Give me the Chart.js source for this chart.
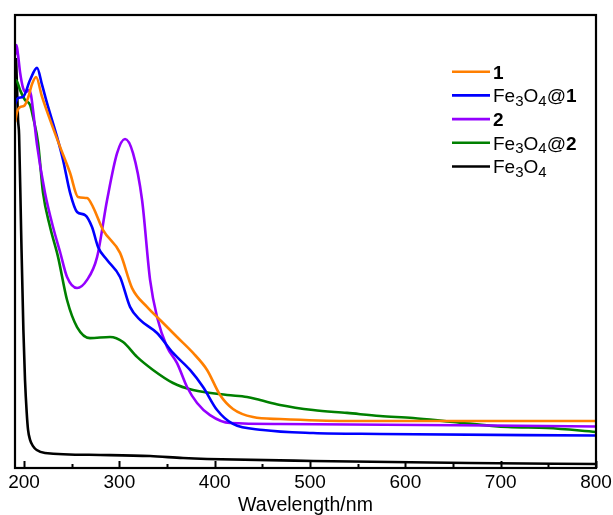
<!DOCTYPE html>
<html>
<head>
<meta charset="utf-8">
<script src="https://cdn.jsdelivr.net/npm/chart.js@4/dist/chart.umd.min.js"></script>
<style>
  html, body { margin: 0; padding: 0; background: #ffffff; }
  #wrap { width: 613px; height: 515px; }
</style>
</head>
<body>
<div id="wrap"><canvas id="uv" width="613" height="515"></canvas></div>
<script>
// UV-Vis absorption spectra (arbitrary absorbance units)
const seriesNames  = ['1', 'Fe3O4@1', '2', 'Fe3O4@2', 'Fe3O4'];
const seriesColors = ['#ff7f00', '#0000ff', '#9400ff', '#008000', '#000000'];

const wl1  = [190.6,192.7,195.8,200.0,204.2,208.4,212.6,218.9,227.3,237.8,248.3,256.6,266.1,272.4,282.9,300.7,313.3,329.0,342.7,360.5,377.3,392.0,405.6,419.2,440.2,468.5,538.8,800];
const abs1 = [1.909,1.965,1.992,1.998,2.042,2.119,2.158,2.048,1.921,1.772,1.628,1.496,1.490,1.440,1.313,1.187,0.993,0.889,0.817,0.723,0.635,0.541,0.403,0.326,0.281,0.270,0.259,0.259];

const wlFe1  = [190.6,193.7,199.0,206.3,213.6,218.9,224.1,234.6,240.9,248.3,255.6,264.0,271.3,277.6,287.1,300.7,311.2,321.7,339.5,356.3,374.1,387.8,402.5,419.2,450.7,503.2,573.4,800];
const absFe1 = [2.009,2.042,2.048,2.141,2.208,2.114,2.014,1.827,1.700,1.518,1.413,1.396,1.330,1.220,1.148,1.054,0.889,0.817,0.745,0.635,0.541,0.447,0.320,0.243,0.210,0.193,0.188,0.179];

const wl2  = [190.6,192.1,193.7,195.8,199.0,202.1,205.2,207.3,209.4,213.6,222.0,230.4,237.8,245.1,255.6,266.1,276.6,287.1,297.6,305.9,314.3,323.8,332.2,339.5,350.0,360.5,371.0,381.5,395.1,416.1,468.5,800];
const abs2 = [2.279,2.334,2.279,2.185,2.097,2.075,2.086,2.058,1.976,1.783,1.518,1.330,1.192,1.054,0.993,1.038,1.164,1.479,1.738,1.816,1.738,1.479,1.038,0.833,0.668,0.579,0.447,0.359,0.292,0.248,0.243,0.229];

const wlFe2  = [190.6,191.6,195.8,201.0,206.3,209.4,214.7,219.9,227.3,235.7,245.1,255.6,269.2,290.2,303.9,318.5,335.3,356.3,377.3,413.0,433.9,447.6,468.5,503.2,538.8,573.4,608.1,650.0,707.7,748.6,800];
const absFe2 = [2.130,2.141,2.086,2.031,2.003,1.937,1.794,1.518,1.330,1.164,0.927,0.778,0.717,0.723,0.695,0.613,0.541,0.469,0.430,0.403,0.392,0.375,0.348,0.320,0.304,0.287,0.276,0.254,0.226,0.221,0.199];

const wlFe  = [191.6,192.7,193.7,194.8,196.9,199.3,201.0,202.8,204.2,206.3,209.4,213.3,222.0,279.7,332.2,366.8,392.0,503.2,666.8,800];
const absFe = [2.263,2.086,1.921,1.838,1.313,0.762,0.486,0.304,0.210,0.155,0.121,0.099,0.083,0.072,0.066,0.055,0.050,0.039,0.028,0.022];

const xMajorTicks = [200, 300, 400, 500, 600, 700, 800];
const xMinorTicks = [250, 350, 450, 550, 650, 750];
const xRange = [190.5, 800];
const yRange = [0, 2.5];
const xTitle = 'Wavelength/nm';

const seriesWl  = [wl1, wlFe1, wl2, wlFe2, wlFe];
const seriesAbs = [abs1, absFe1, abs2, absFe2, absFe];

const FONT = '"Liberation Sans", Arial, Helvetica, sans-serif';

function toPoints(xs, ys) {
  return xs.map((x, i) => ({ x: x, y: ys[i] }));
}

const datasets = seriesNames.map((name, i) => ({
  label: name,
  data: toPoints(seriesWl[i], seriesAbs[i]),
  borderColor: seriesColors[i],
  backgroundColor: seriesColors[i],
  borderWidth: 2.6,
  pointRadius: 0,
  showLine: true,
  fill: false,
  cubicInterpolationMode: 'monotone'
}));

// Splits a label into runs: digits after a letter become subscripts,
// standalone digits (compound numbers) are bold.
function labelRuns(text) {
  const runs = [];
  for (let i = 0; i < text.length; i++) {
    const ch = text[i];
    const isDigit = ch >= '0' && ch <= '9';
    const prev = i > 0 ? text[i - 1] : '';
    let kind = 'normal';
    if (isDigit) kind = /[A-Za-z]/.test(prev) ? 'sub' : 'bold';
    const last = runs[runs.length - 1];
    if (last && last.kind === kind) last.text += ch;
    else runs.push({ kind: kind, text: ch });
  }
  return runs;
}

const framePlugin = {
  id: 'frameTicksLegend',
  afterDatasetsDraw(chart) {
    const ctx = chart.ctx;
    const a = chart.chartArea;
    const xs = chart.scales.x;
    ctx.save();
    // inward ticks on the bottom axis
    ctx.strokeStyle = '#000';
    ctx.lineWidth = 2;
    ctx.lineCap = 'butt';
    const drawTick = (v, len) => {
      const px = Math.round(xs.getPixelForValue(v)) + 0.5;
      ctx.beginPath();
      ctx.moveTo(px, a.bottom);
      ctx.lineTo(px, a.bottom - len);
      ctx.stroke();
    };
    xMajorTicks.forEach(v => drawTick(v, 7));
    xMinorTicks.forEach(v => drawTick(v, 4));
    // plot frame
    ctx.lineWidth = 2.2;
    ctx.strokeRect(a.left, a.top, a.right - a.left, a.bottom - a.top);

    // legend
    const lx0 = 452, lx1 = 490, tx = 493, y0 = 71.7, dy = 23.7;
    chart.data.datasets.forEach((ds, i) => {
      const y = y0 + i * dy;
      ctx.strokeStyle = ds.borderColor;
      ctx.lineWidth = 2.6;
      ctx.beginPath();
      ctx.moveTo(lx0, y);
      ctx.lineTo(lx1, y);
      ctx.stroke();
      let x = tx;
      ctx.fillStyle = '#000';
      ctx.textBaseline = 'alphabetic';
      ctx.textAlign = 'left';
      const base = y + 6.8;
      labelRuns(ds.label).forEach(r => {
        let dyOff = 0;
        if (r.kind === 'sub') { ctx.font = '15px ' + FONT; dyOff = 3.5; }
        else if (r.kind === 'bold') { ctx.font = 'bold 19px ' + FONT; }
        else { ctx.font = '19px ' + FONT; }
        ctx.fillText(r.text, x, base + dyOff);
        x += ctx.measureText(r.text).width;
      });
    });
    ctx.restore();
  }
};

new Chart(document.getElementById('uv'), {
  type: 'scatter',
  data: { datasets: datasets },
  options: {
    responsive: false,
    devicePixelRatio: 1,
    animation: false,
    layout: { padding: { left: 15, top: 15, right: 17, bottom: 0 } },
    plugins: {
      legend: { display: false },
      tooltip: { enabled: false },
      title: { display: false }
    },
    scales: {
      x: {
        type: 'linear',
        min: xRange[0],
        max: xRange[1],
        afterBuildTicks(scale) {
          scale.ticks = xMajorTicks.map(v => ({ value: v }));
        },
        afterFit(scale) {
          scale.height = 47;
          scale.paddingLeft = 0;
          scale.paddingRight = 0;
        },
        grid: { display: false, drawTicks: false },
        border: { display: false },
        ticks: {
          color: '#000',
          padding: 5,
          maxRotation: 0,
          autoSkip: false,
          font: { family: FONT, size: 19, lineHeight: 1.0 }
        },
        title: {
          display: true,
          text: xTitle,
          color: '#000',
          padding: { top: 0, bottom: 0 },
          font: { family: FONT, size: 19.5, lineHeight: 1.0 }
        }
      },
      y: {
        display: false,
        min: yRange[0],
        max: yRange[1]
      }
    }
  },
  plugins: [framePlugin]
});
</script>
</body>
</html>
